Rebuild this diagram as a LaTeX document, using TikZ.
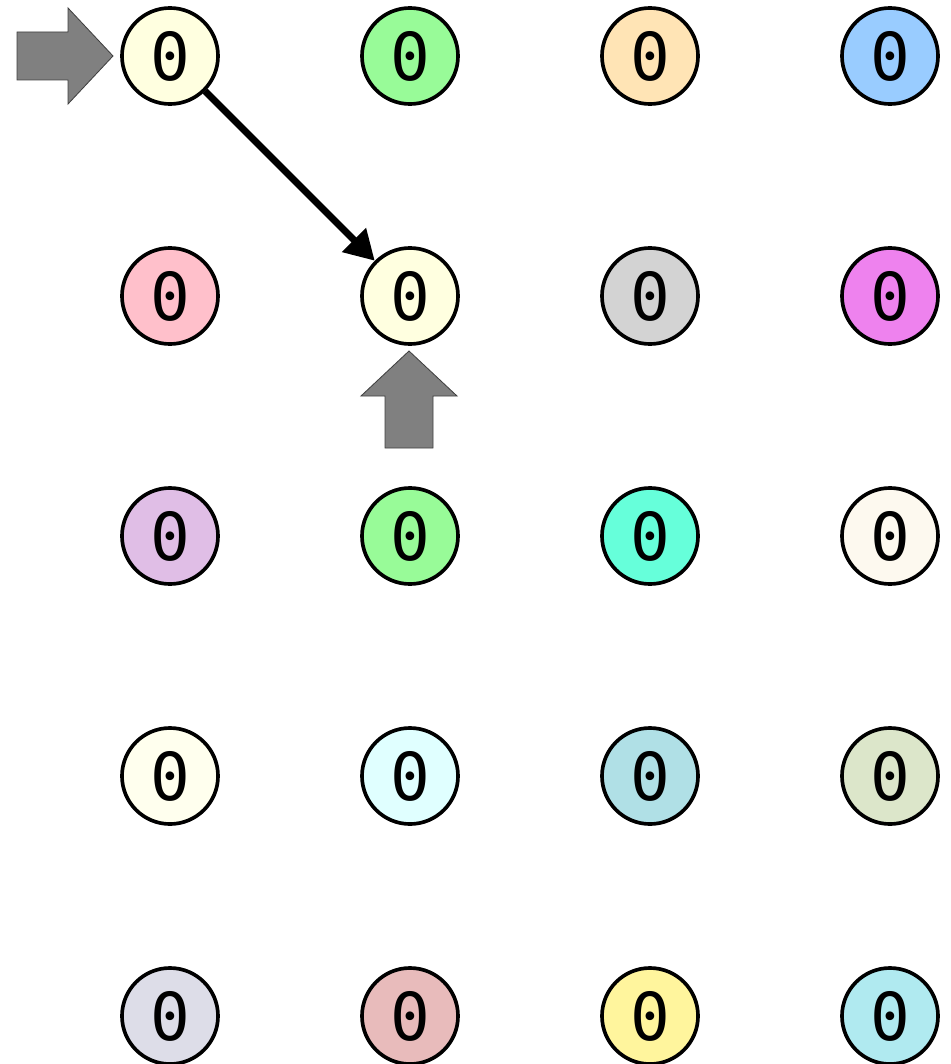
\documentclass[tikz,border=0pt]{standalone}
\usepackage{fontspec}
\newfontfamily\zerofont{DejaVu Sans Mono}
\usetikzlibrary{arrows.meta, positioning}

\definecolor{lemon}{HTML}{FFFFE0}
\definecolor{mint}{HTML}{98FB98}
\definecolor{peach}{HTML}{FFE4B5}
\definecolor{sky}{HTML}{99CCFF}
\definecolor{rose}{HTML}{FFC0CB}
\definecolor{silver}{HTML}{D3D3D3}
\definecolor{orchid}{HTML}{EE82EE}
\definecolor{lilac}{HTML}{E0BEE6}
\definecolor{aqua}{HTML}{66FFDA}
\definecolor{cream}{HTML}{FDF9EF}
\definecolor{ivory}{HTML}{FFFFEE}
\definecolor{frost}{HTML}{E0FFFF}
\definecolor{powder}{HTML}{B0E0E6}
\definecolor{sage}{HTML}{DCE6CA}
\definecolor{mist}{HTML}{DDDDE8}
\definecolor{blush}{HTML}{E8BBBB}
\definecolor{butter}{HTML}{FFF59D}
\definecolor{lagoon}{HTML}{B0EAF0}

\begin{document}
\begin{tikzpicture}[x=0.025cm, y=-0.025cm,
    cell/.style={circle, draw=black, line width=2.6pt, minimum size=2.4cm, inner sep=0pt, font=\zerofont\fontsize{47}{47}\selectfont},
    link/.style={-{Triangle[length=21pt, width=23pt]}, line width=5pt},
    pointer/.style={draw=black!75, fill=black!50, line width=0.6pt}
  ]
    \useasboundingbox (0,0) rectangle (951,1064);
    % grid of cells
    \node[cell, fill=lemon] (c11) at (170, 56) {0};
    \node[cell, fill=mint] (c12) at (410, 56) {0};
    \node[cell, fill=peach] (c13) at (650, 56) {0};
    \node[cell, fill=sky] (c14) at (890, 56) {0};
    \node[cell, fill=rose] (c21) at (170, 296) {0};
    \node[cell, fill=lemon] (c22) at (410, 296) {0};
    \node[cell, fill=silver] (c23) at (650, 296) {0};
    \node[cell, fill=orchid] (c24) at (890, 296) {0};
    \node[cell, fill=lilac] (c31) at (170, 536) {0};
    \node[cell, fill=mint] (c32) at (410, 536) {0};
    \node[cell, fill=aqua] (c33) at (650, 536) {0};
    \node[cell, fill=cream] (c34) at (890, 536) {0};
    \node[cell, fill=ivory] (c41) at (170, 776) {0};
    \node[cell, fill=frost] (c42) at (410, 776) {0};
    \node[cell, fill=powder] (c43) at (650, 776) {0};
    \node[cell, fill=sage] (c44) at (890, 776) {0};
    \node[cell, fill=mist] (c51) at (170, 1016) {0};
    \node[cell, fill=blush] (c52) at (410, 1016) {0};
    \node[cell, fill=butter] (c53) at (650, 1016) {0};
    \node[cell, fill=lagoon] (c54) at (890, 1016) {0};
    % move
    \draw[link] (c11) -- (c22);
    % pointers
    \draw[pointer] (17, 32) -- (68, 32) -- (68, 8) -- (113, 56) -- (68, 104) -- (68, 80) -- (17, 80) -- cycle;
    \draw[pointer] (385, 448) -- (385, 396) -- (361, 396) -- (409, 351) -- (457, 396) -- (433, 396) -- (433, 448) -- cycle;
\end{tikzpicture}
\end{document}
